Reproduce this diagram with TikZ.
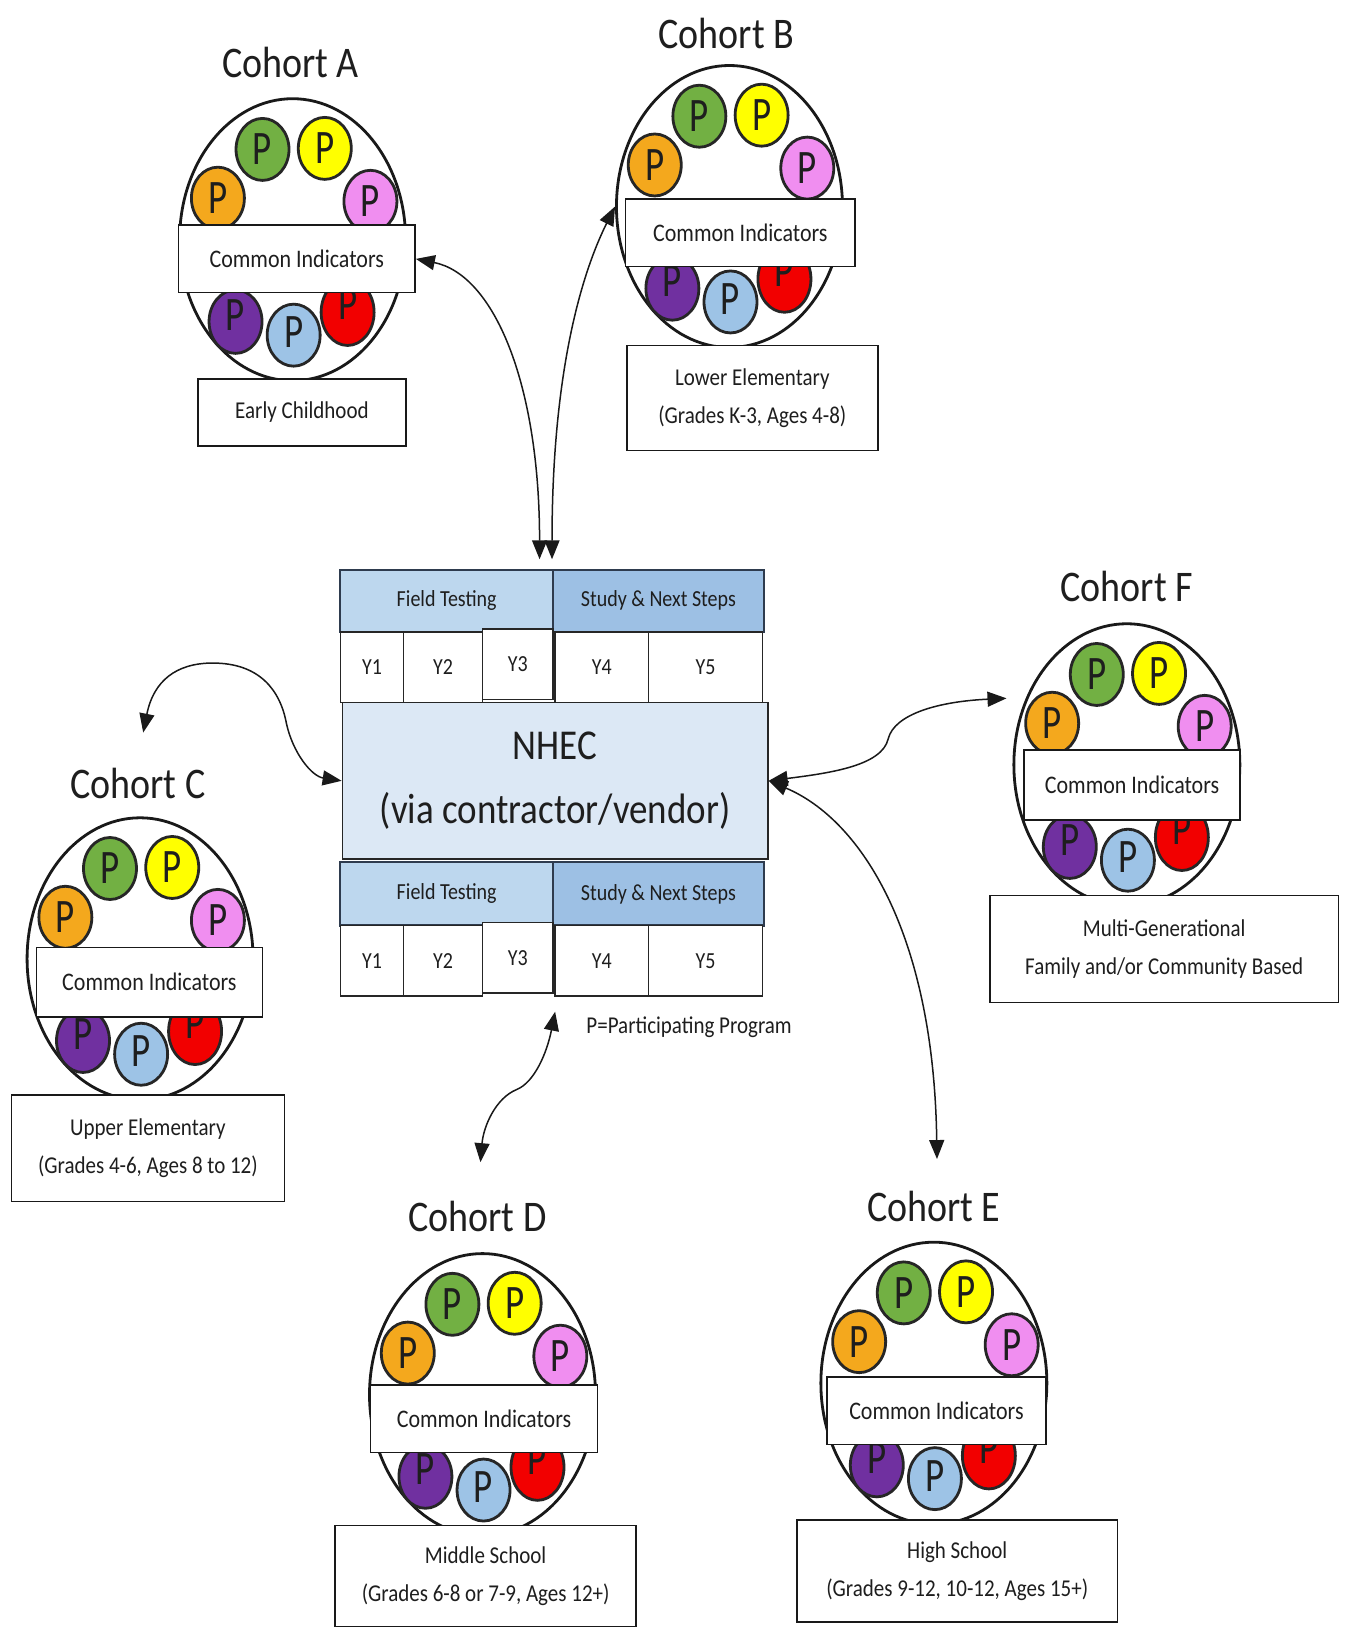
\documentclass[tikz,border=0pt]{standalone}
\usepackage{fontspec}
\setmainfont{Carlito}
\usepackage{graphicx}
\usetikzlibrary{arrows.meta,shapes.geometric}
\definecolor{cOrange}{HTML}{F4A81D}
\definecolor{cGreen}{HTML}{72B043}
\definecolor{cYellow}{HTML}{FFFF00}
\definecolor{cPink}{HTML}{F08EF0}
\definecolor{cPurple}{HTML}{7030A0}
\definecolor{cBlue}{HTML}{9DC3E6}
\definecolor{cRed}{HTML}{F20000}
\definecolor{ftFill}{HTML}{BDD7EE}
\definecolor{snsFill}{HTML}{9DC0E4}
\definecolor{nhecFill}{HTML}{DCE8F5}
\definecolor{hdrLine}{HTML}{2E3B4E}
\definecolor{txt}{HTML}{1E1E1E}
\newcommand{\vs}[1]{\scalebox{1}[1.15]{#1}}
\newcommand{\vp}{\scalebox{1}[1.3]{P}}
\newcommand{\bx}[7]{\node[#6, minimum width={(#4-#2)*1.0377}, minimum height={(#5-#3)*1.0377}] (#1) at ({(#2+#4)/2},{(#3+#5)/2}) {#7};}
\newcommand{\cohort}[3]{%
  \node[bigell] (el#1) at (#2,#3) {};
  \node[pc,fill=cOrange] (po#1) at ({#2-72},{#3-40}) {\vp};
  \node[pc,fill=cGreen] (pg#1) at ({#2-29},{#3-87}) {\vp};
  \node[pc,fill=cYellow] (py#1) at ({#2+31},{#3-88}) {\vp};
  \node[pc,fill=cPink] (pk#1) at ({#2+75},{#3-37}) {\vp};
  \node[pc,fill=cPurple] (pu#1) at ({#2-55},{#3+79}) {\raisebox{14pt}{\vp}};
  \node[pc,fill=cBlue] (pb#1) at ({#2+1},{#3+92}) {\raisebox{6pt}{\vp}};
  \node[pc,fill=cRed] (pr#1) at ({#2+53},{#3+70}) {\raisebox{16pt}{\vp}};
}
\begin{document}
\begin{tikzpicture}[x=1.0377pt,y=-1.0377pt,
  every node/.style={text=txt},
  bigell/.style={ellipse, draw=black!90, line width=2.8pt, fill=white, minimum width=226pt, minimum height=282pt, inner sep=0pt},
  pc/.style={ellipse, draw=black!85, line width=2.8pt, minimum width=53pt, minimum height=62pt, inner sep=0pt, font=\fontsize{37}{37}\selectfont},
  cib/.style={draw=black!90, line width=1.6pt, fill=white, inner sep=0pt, font=\fontsize{22}{22}\selectfont},
  lab/.style={draw=black!90, line width=1.6pt, fill=white, inner sep=0pt, align=center, font=\fontsize{21}{38}\selectfont},
  ttl/.style={inner sep=0pt, font=\fontsize{38}{38}\selectfont},
  hdrft/.style={draw=hdrLine, line width=2.2pt, fill=ftFill, inner sep=0pt, font=\fontsize{20}{20}\selectfont},
  hdrsn/.style={draw=hdrLine, line width=2.2pt, fill=snsFill, inner sep=0pt, font=\fontsize{20}{20}\selectfont},
  yb/.style={draw=black!85, line width=1.6pt, fill=white, inner sep=0pt, font=\fontsize{20}{20}\selectfont},
  nh/.style={draw=black!85, line width=1.6pt, fill=nhecFill, inner sep=0pt, align=center, font=\fontsize{37}{64}\selectfont},
  bi/.style={{Triangle[length=19pt,width=15pt]}-{Triangle[length=19pt,width=15pt]}, line width=1.5pt, draw=black!90}
]
\useasboundingbox[fill=white] (0,0) rectangle (1299,1568);

% ---------- Cohort A
\node[ttl] (tiA) at (280,60) {\vs{Cohort A}};
\cohort{A}{282}{231}
\bx{ciA}{172}{217}{400}{282}{cib}{\vs{Common Indicators}}
\bx{lbA}{191}{365}{391}{430}{lab}{\vs{Early Childhood}}

% ---------- Cohort B
\node[ttl] (tiB) at (700,32) {\vs{Cohort B}};
\cohort{B}{703}{199}
\bx{ciB}{603}{192}{824}{257}{cib}{\vs{Common Indicators}}
\bx{lbB}{604}{333}{846}{434}{lab}{\vs{Lower Elementary}\\\vs{(Grades K-3, Ages 4-8)}}

% ---------- Cohort C
\node[ttl] (tiC) at (133,755) {\vs{Cohort C}};
\cohort{C}{135}{924}
\bx{ciC}{35}{913}{253}{980}{cib}{\vs{Common Indicators}}
\bx{lbC}{11}{1055}{274}{1158}{lab}{\vs{Upper Elementary}\\\vs{(Grades 4-6, Ages 8 to 12)}}

% ---------- Cohort D
\node[ttl] (tiD) at (460,1172) {\vs{Cohort D}};
\cohort{D}{465}{1344}
\bx{ciD}{357}{1335}{576}{1400}{cib}{\vs{Common Indicators}}
\bx{lbD}{323}{1470}{613}{1568}{lab}{\vs{Middle School}\\\vs{(Grades 6-8 or 7-9, Ages 12+)}}

% ---------- Cohort E
\node[ttl] (tiE) at (900,1163) {\vs{Cohort E}};
\cohort{E}{900}{1333}
\bx{ciE}{797}{1327}{1008}{1392}{cib}{\vs{Common Indicators}}
\bx{lbE}{768}{1465}{1077}{1563}{lab}{\vs{High School}\\\vs{(Grades 9-12, 10-12, Ages 15+)}}

% ---------- Cohort F
\node[ttl] (tiF) at (1086,565) {\vs{Cohort F}};
\cohort{F}{1086}{737}
\bx{ciF}{987}{723}{1195}{790}{cib}{\vs{Common Indicators}}
\bx{lbF}{954}{863}{1290}{966}{lab}{\vs{Multi-Generational}\\\vs{Family and/or Community Based}}

% ---------- Centre block
\bx{nhec}{330}{677}{740}{828}{nh}{\vs{NHEC}\\\vs{(via contractor/vendor)}}
\bx{ft1}{328}{549}{533}{609}{hdrft}{\vs{Field Testing}}
\bx{sn1}{533}{549}{736}{609}{hdrsn}{\vs{Study \& Next Steps}}
\bx{ya1}{328}{609}{389}{677}{yb}{\vs{Y1}}
\bx{ya2}{389}{609}{465}{677}{yb}{\vs{Y2}}
\bx{ya3}{465}{606}{533}{674}{yb}{\vs{Y3}}
\bx{ya4}{535}{609}{625}{677}{yb}{\vs{Y4}}
\bx{ya5}{625}{609}{735}{677}{yb}{\vs{Y5}}
\bx{ft2}{328}{831}{533}{892}{hdrft}{\vs{Field Testing}}
\bx{sn2}{533}{831}{736}{892}{hdrsn}{\vs{Study \& Next Steps}}
\bx{yb1}{328}{892}{389}{960}{yb}{\vs{Y1}}
\bx{yb2}{389}{892}{465}{960}{yb}{\vs{Y2}}
\bx{yb3}{465}{889}{533}{957}{yb}{\vs{Y3}}
\bx{yb4}{535}{892}{625}{960}{yb}{\vs{Y4}}
\bx{yb5}{625}{892}{735}{960}{yb}{\vs{Y5}}
\node[anchor=west, inner sep=0pt, font=\fontsize{21}{21}\selectfont] (legend) at (565,990) {\vs{P=Participating Program}};

% ---------- Connectors
\coordinate (tA) at (520,539);
\coordinate (tB) at (532,539);
\coordinate (tC) at (138,706);
\coordinate (tF) at (970,673);
\coordinate (tE) at (903,1117);
\coordinate (tD1) at (535,975);
\coordinate (tD2) at (463,1120);

\draw[bi] (ciA.east) .. controls +(75,15) and +(0,-170) .. (tA);
\draw[bi] (tB) .. controls +(0,-200) and +(-25,50) .. (elB.west);
\draw[bi] (tC) .. controls +(10,-50) and (170,639) .. (205,639)
  .. controls (250,639) and (270,665) .. (276,697)
  .. controls (282,725) and (300,748) .. (nhec.west);
\draw[bi] (nhec.east) .. controls (800,745) and (850,738) .. (856,712)
  .. controls (862,688) and (905,676) .. (tF);
\draw[bi] (nhec.east) .. controls (830,790) and (900,900) .. (tE);
\draw[bi] (tD1) .. controls (527,1015) and (515,1043) .. (498,1050)
  .. controls (478,1058) and (466,1085) .. (tD2);
\end{tikzpicture}
\end{document}
